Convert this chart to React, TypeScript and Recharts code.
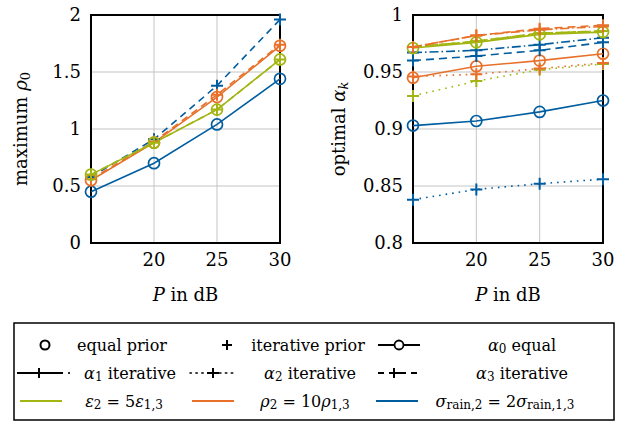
import React from 'react';
import { LineChart, Line, XAxis, YAxis, CartesianGrid, ReferenceArea, Label } from 'recharts';

// transmit power P in dB
const powerDb = [15, 20, 25, 30];

// left panel: maximum rho_0
const rhoEqualEps = [0.6, 0.88, 1.17, 1.61];
const rhoIterEps = [0.6, 0.88, 1.17, 1.61];
const rhoEqualRho = [0.55, 0.88, 1.28, 1.73];
const rhoIterRho = [0.56, 0.89, 1.3, 1.74];
const rhoEqualSig = [0.45, 0.7, 1.04, 1.44];
const rhoIterSig = [0.58, 0.91, 1.38, 1.96];

// right panel: optimal alpha_k
const a0Eps = [0.971, 0.976, 0.983, 0.985];
const a1Eps = [0.972, 0.977, 0.984, 0.986];
const a2Eps = [0.929, 0.942, 0.952, 0.957];
const a3Eps = [0.972, 0.977, 0.984, 0.986];
const a0Rho = [0.945, 0.955, 0.96, 0.966];
const a1Rho = [0.972, 0.982, 0.987, 0.99];
const a2Rho = [0.946, 0.948, 0.953, 0.958];
const a3Rho = [0.972, 0.982, 0.988, 0.991];
const a0Sig = [0.903, 0.907, 0.915, 0.925];
const a1Sig = [0.967, 0.969, 0.974, 0.98];
const a2Sig = [0.838, 0.847, 0.852, 0.856];
const a3Sig = [0.96, 0.964, 0.969, 0.976];

const xTicks = [20, 25, 30];
const rhoTicks = [0, 0.5, 1, 1.5, 2];
const alphaTicks = [0.8, 0.85, 0.9, 0.95, 1];

const GREEN = '#a2b511';
const ORANGE = '#e8702a';
const BLUE = '#005da0';
const FONT = 'DejaVu Serif';

const leftData = powerDb.map((p, i) => ({
  p,
  eqEps: rhoEqualEps[i],
  itEps: rhoIterEps[i],
  eqRho: rhoEqualRho[i],
  itRho: rhoIterRho[i],
  eqSig: rhoEqualSig[i],
  itSig: rhoIterSig[i],
}));

const rightData = powerDb.map((p, i) => ({
  p,
  a0Eps: a0Eps[i], a1Eps: a1Eps[i], a2Eps: a2Eps[i], a3Eps: a3Eps[i],
  a0Rho: a0Rho[i], a1Rho: a1Rho[i], a2Rho: a2Rho[i], a3Rho: a3Rho[i],
  a0Sig: a0Sig[i], a1Sig: a1Sig[i], a2Sig: a2Sig[i], a3Sig: a3Sig[i],
}));

const circleDot = (color: string) => (props: any) => {
  const { cx, cy, index } = props;
  if (cx == null || cy == null) return <g key={index} />;
  return <circle key={index} cx={cx} cy={cy} r={5.5} fill="none" stroke={color} strokeWidth={1.7} />;
};

const plusDot = (color: string) => (props: any) => {
  const { cx, cy, index } = props;
  if (cx == null || cy == null) return <g key={index} />;
  return (
    <path key={index} d={`M${cx - 6},${cy}h12M${cx},${cy - 6}v12`} stroke={color} strokeWidth={2} fill="none" />
  );
};

const tickStyle = { fill: '#000', fontSize: 18, fontFamily: FONT };

const xTitle = (props: any) => {
  const vb = props.viewBox;
  return (
    <text x={vb.x + vb.width / 2} y={vb.y + 58} textAnchor="middle" fontSize={18} fontFamily={FONT} fill="#000">
      <tspan fontStyle="italic">P</tspan> in dB
    </text>
  );
};

const yTitle = (offset: number, main: string, sym: string, sub: string) => (props: any) => {
  const vb = props.viewBox;
  const cx = vb.x + offset;
  const cy = vb.y + vb.height / 2;
  return (
    <text
      x={cx}
      y={cy}
      transform={`rotate(-90 ${cx} ${cy})`}
      textAnchor="middle"
      dominantBaseline="middle"
      fontSize={18}
      fontFamily={FONT}
      fill="#000"
    >
      {main} <tspan fontStyle="italic">{sym}</tspan>
      <tspan fontSize={13} dy={4} fontStyle={sub === 'k' ? 'italic' : 'normal'}>{sub}</tspan>
    </text>
  );
};

const fmt = (v: number) => String(v);

function LeftPanel() {
  return (
    <LineChart width={300} height={310} data={leftData} margin={{ top: 15, right: 20, left: 5, bottom: 7 }}>
      <CartesianGrid stroke="#c4c4c4" />
      <XAxis dataKey="p" type="number" domain={[15, 30]} ticks={xTicks} tickLine={false} axisLine={false}
        tick={tickStyle} tickMargin={4} height={60}>
        <Label content={xTitle} />
      </XAxis>
      <YAxis type="number" domain={[0, 2]} ticks={rhoTicks} tickLine={false} axisLine={false}
        tick={tickStyle} tickMargin={4} width={86} tickFormatter={fmt}>
        <Label content={yTitle(17, 'maximum', 'ρ', '0')} />
      </YAxis>
      <ReferenceArea x1={15} x2={30} y1={0} y2={2} fill="none" fillOpacity={0} stroke="#000" strokeWidth={2} />
      <Line dataKey="itSig" stroke={BLUE} strokeWidth={1.6} strokeDasharray="7 5" dot={plusDot(BLUE)} activeDot={false} isAnimationActive={false} />
      <Line dataKey="eqSig" stroke={BLUE} strokeWidth={1.6} dot={circleDot(BLUE)} activeDot={false} isAnimationActive={false} />
      <Line dataKey="itRho" stroke={ORANGE} strokeWidth={1.6} strokeDasharray="7 5" dot={plusDot(ORANGE)} activeDot={false} isAnimationActive={false} />
      <Line dataKey="eqRho" stroke={ORANGE} strokeWidth={1.6} dot={circleDot(ORANGE)} activeDot={false} isAnimationActive={false} />
      <Line dataKey="itEps" stroke={GREEN} strokeWidth={1.6} strokeDasharray="7 5" dot={plusDot(GREEN)} activeDot={false} isAnimationActive={false} />
      <Line dataKey="eqEps" stroke={GREEN} strokeWidth={1.6} dot={circleDot(GREEN)} activeDot={false} isAnimationActive={false} />
    </LineChart>
  );
}

function RightPanel() {
  const DASHDOT = '9 3 1.5 3';
  const DOTTED = '1.6 5';
  const DASHED = '8 5';
  return (
    <LineChart width={300} height={310} data={rightData} margin={{ top: 15, right: 17, left: 5, bottom: 7 }}>
      <CartesianGrid stroke="#c4c4c4" />
      <XAxis dataKey="p" type="number" domain={[15, 30]} ticks={xTicks} tickLine={false} axisLine={false}
        tick={tickStyle} tickMargin={4} height={60}>
        <Label content={xTitle} />
      </XAxis>
      <YAxis type="number" domain={[0.8, 1]} ticks={alphaTicks} tickLine={false} axisLine={false}
        tick={tickStyle} tickMargin={4} width={88} tickFormatter={fmt}>
        <Label content={yTitle(15, 'optimal', 'α', 'k')} />
      </YAxis>
      <ReferenceArea x1={15} x2={30} y1={0.8} y2={1} fill="none" fillOpacity={0} stroke="#000" strokeWidth={2} />
      <Line dataKey="a2Sig" stroke={BLUE} strokeWidth={1.6} strokeDasharray={DOTTED} dot={plusDot(BLUE)} activeDot={false} isAnimationActive={false} />
      <Line dataKey="a0Sig" stroke={BLUE} strokeWidth={1.6} dot={circleDot(BLUE)} activeDot={false} isAnimationActive={false} />
      <Line dataKey="a2Eps" stroke={GREEN} strokeWidth={1.6} strokeDasharray={DOTTED} dot={plusDot(GREEN)} activeDot={false} isAnimationActive={false} />
      <Line dataKey="a2Rho" stroke={ORANGE} strokeWidth={1.6} strokeDasharray={DOTTED} dot={plusDot(ORANGE)} activeDot={false} isAnimationActive={false} />
      <Line dataKey="a0Rho" stroke={ORANGE} strokeWidth={1.6} dot={circleDot(ORANGE)} activeDot={false} isAnimationActive={false} />
      <Line dataKey="a3Sig" stroke={BLUE} strokeWidth={1.6} strokeDasharray={DASHED} dot={plusDot(BLUE)} activeDot={false} isAnimationActive={false} />
      <Line dataKey="a1Sig" stroke={BLUE} strokeWidth={1.6} strokeDasharray={DASHDOT} dot={plusDot(BLUE)} activeDot={false} isAnimationActive={false} />
      <Line dataKey="a1Eps" stroke={GREEN} strokeWidth={1.6} strokeDasharray={DASHDOT} dot={plusDot(GREEN)} activeDot={false} isAnimationActive={false} />
      <Line dataKey="a3Eps" stroke={GREEN} strokeWidth={1.6} strokeDasharray={DASHED} dot={plusDot(GREEN)} activeDot={false} isAnimationActive={false} />
      <Line dataKey="a0Eps" stroke={GREEN} strokeWidth={1.6} dot={circleDot(GREEN)} activeDot={false} isAnimationActive={false} />
      <Line dataKey="a1Rho" stroke={ORANGE} strokeWidth={1.6} strokeDasharray={DASHDOT} dot={plusDot(ORANGE)} activeDot={false} isAnimationActive={false} />
      <Line dataKey="a3Rho" stroke={ORANGE} strokeWidth={1.6} strokeDasharray={DASHED} dot={plusDot(ORANGE)} activeDot={false} isAnimationActive={false} />
    </LineChart>
  );
}

const Sub = ({ children, italic }: { children: React.ReactNode; italic?: boolean }) => (
  <tspan fontSize={12} dy={4} fontStyle={italic ? 'italic' : 'normal'}>{children}</tspan>
);

function LegendBox() {
  const r1 = 27;
  const r2 = 55;
  const r3 = 83;
  return (
    <svg width={627} height={103} style={{ position: 'absolute', left: 0, top: 318 }} fontFamily={FONT} fontSize={16}>
      <rect x={14} y={5} width={600} height={97} fill="#fff" stroke="#000" strokeWidth={1.5} />
      {/* row 1 */}
      <circle cx={45} cy={r1} r={4.5} fill="none" stroke="#000" strokeWidth={2} />
      <text x={122} y={r1} textAnchor="middle" dominantBaseline="central">equal prior</text>
      <path d={`M${222},${r1}h10M${227},${r1 - 5}v10`} stroke="#000" strokeWidth={2} />
      <text x={308} y={r1} textAnchor="middle" dominantBaseline="central">iterative prior</text>
      <path d={`M378,${r1}h42`} stroke="#000" strokeWidth={1.8} />
      <circle cx={399} cy={r1} r={4.5} fill="#fff" stroke="#000" strokeWidth={1.8} />
      <text x={522} y={r1} textAnchor="middle" dominantBaseline="central">
        <tspan fontStyle="italic">α</tspan><Sub>0</Sub><tspan dy={-4}> equal</tspan>
      </text>
      {/* row 2 */}
      <path d={`M17,${r2}h46`} stroke="#000" strokeWidth={1.8} />
      <path d={`M${39},${r2 - 5}v10`} stroke="#000" strokeWidth={2} />
      <circle cx={69} cy={r2} r={1.1} fill="#000" />
      <text x={130} y={r2} textAnchor="middle" dominantBaseline="central">
        <tspan fontStyle="italic">α</tspan><Sub>1</Sub><tspan dy={-4}> iterative</tspan>
      </text>
      <path d={`M190,${r2}h45`} stroke="#000" strokeWidth={1.6} strokeDasharray="1.4 4.5" strokeLinecap="round" />
      <path d={`M${207},${r2}h12M${213},${r2 - 5}v10`} stroke="#000" strokeWidth={2} />
      <text x={310} y={r2} textAnchor="middle" dominantBaseline="central">
        <tspan fontStyle="italic">α</tspan><Sub>2</Sub><tspan dy={-4}> iterative</tspan>
      </text>
      <path d={`M378,${r2}h42`} stroke="#000" strokeWidth={1.8} strokeDasharray="6 5" />
      <path d={`M${394},${r2 - 5}v10M389,${r2}h11`} stroke="#000" strokeWidth={2} />
      <text x={522} y={r2} textAnchor="middle" dominantBaseline="central">
        <tspan fontStyle="italic">α</tspan><Sub>3</Sub><tspan dy={-4}> iterative</tspan>
      </text>
      {/* row 3 */}
      <path d={`M20,${r3}h42`} stroke={GREEN} strokeWidth={1.8} />
      <text x={124} y={r3} textAnchor="middle" dominantBaseline="central">
        <tspan fontStyle="italic">ε</tspan><Sub>2</Sub><tspan dy={-4}> = 5</tspan>
        <tspan fontStyle="italic">ε</tspan><Sub>1,3</Sub>
      </text>
      <path d={`M192,${r3}h42`} stroke={ORANGE} strokeWidth={1.8} />
      <text x={305} y={r3} textAnchor="middle" dominantBaseline="central">
        <tspan fontStyle="italic">ρ</tspan><Sub>2</Sub><tspan dy={-4}> = 10</tspan>
        <tspan fontStyle="italic">ρ</tspan><Sub>1,3</Sub>
      </text>
      <path d={`M376,${r3}h42`} stroke={BLUE} strokeWidth={1.8} />
      <text x={505} y={r3} textAnchor="middle" dominantBaseline="central">
        <tspan fontStyle="italic">σ</tspan><Sub>rain,2</Sub><tspan dy={-4}> = 2</tspan>
        <tspan fontStyle="italic">σ</tspan><Sub>rain,1,3</Sub>
      </text>
    </svg>
  );
}

export default function App() {
  return (
    <div style={{ position: 'absolute', left: 0, top: 0, width: 627, height: 421, background: '#fff' }}>
      <div style={{ position: 'absolute', left: 0, top: 0 }}>
        <LeftPanel />
      </div>
      <div style={{ position: 'absolute', left: 320, top: 0 }}>
        <RightPanel />
      </div>
      <LegendBox />
    </div>
  );
}
